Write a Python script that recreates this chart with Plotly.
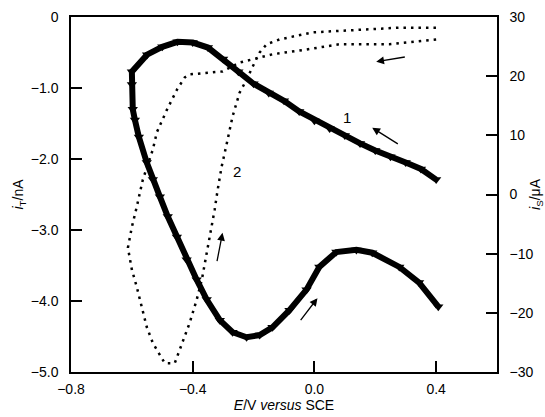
import plotly.graph_objects as go

# Curve 1 (tip current, left axis) - reverse branch (0.4 -> -0.6) then forward branch (-0.6 -> 0.4)
e1 = [0.40, 0.35, 0.30, 0.25, 0.20, 0.15, 0.10, 0.05, 0.00, -0.05, -0.10, -0.15, -0.20,
      -0.25, -0.30, -0.35, -0.40, -0.45, -0.50, -0.55, -0.60,
      -0.600, -0.597, -0.590, -0.577, -0.551, -0.531, -0.508, -0.482, -0.452, -0.420,
      -0.387, -0.354, -0.311, -0.269, -0.223, -0.180, -0.138, -0.082, -0.026, 0.016,
      0.072, 0.138, 0.190, 0.279, 0.344, 0.407]
i_t = [-2.29, -2.14, -2.05, -1.97, -1.88, -1.78, -1.67, -1.57, -1.46, -1.33, -1.18, -1.07, -0.94,
       -0.77, -0.59, -0.43, -0.36, -0.35, -0.42, -0.53, -0.77,
       -0.95, -1.30, -1.45, -1.69, -2.05, -2.29, -2.53, -2.81, -3.10, -3.42,
       -3.70, -3.98, -4.27, -4.44, -4.51, -4.48, -4.37, -4.13, -3.84, -3.52,
       -3.31, -3.28, -3.32, -3.52, -3.74, -4.08]

# Curve 2 (substrate current, right axis)
e2 = [0.400, 0.289, 0.246, 0.082, -0.026, -0.138, -0.203, -0.246, -0.302, -0.354, -0.410,
      -0.426, -0.452, -0.485, -0.518, -0.531, -0.564, -0.584, -0.600, -0.613,
      -0.600, -0.584, -0.567, -0.551, -0.531, -0.508, -0.492, -0.459,
      -0.452, -0.433, -0.410, -0.387, -0.370, -0.354, -0.344, -0.328, -0.318, -0.305,
      -0.289, -0.269, -0.246, -0.223, -0.203, -0.180, -0.157, -0.115, -0.007, 0.170, 0.279, 0.410]
i_s = [26.2, 25.7, 25.4, 25.4, 24.5, 23.7, 22.8, 22.3, 20.8, 20.6, 20.3,
       19.8, 17.7, 14.3, 10.5, 7.6, 2.5, -2.1, -5.5, -9.0,
       -12.7, -15.6, -19.0, -22.4, -25.1, -27.1, -28.5, -28.5,
       -27.5, -25.1, -21.7, -17.8, -14.4, -9.9, -7.2, -2.6, 0.8, 4.7,
       8.4, 13.2, 17.2, 19.4, 21.6, 24.0, 25.4, 26.2, 27.4, 27.9, 28.2, 28.2]

x_ticks = [-0.8, -0.4, 0.0, 0.4]
x_tick_text = ["\u22120.8", "\u22120.4", "0.0", "0.4"]
yl_ticks = [0, -1, -2, -3, -4, -5]
yl_tick_text = ["0", "\u22121.0", "\u22122.0", "\u22123.0", "\u22124.0", "\u22125.0"]
yr_ticks = [30, 20, 10, 0, -10, -20, -30]
yr_tick_text = ["30", "20", "10", "0", "\u221210", "\u221220", "\u221230"]

# Arrows: (head_E, head_iT, tail_E, tail_iT)
arrows = [(0.190, -1.56, 0.279, -1.80),
          (0.203, -0.63, 0.302, -0.56),
          (-0.302, -3.04, -0.321, -3.46),
          (0.010, -3.96, -0.049, -4.29)]
labels = [("1", 0.108, -1.41), ("2", -0.255, -2.17)]

font = dict(family="Liberation Sans, Arial, sans-serif", size=14, color="black")

fig = go.Figure()
fig.add_trace(go.Scatter(
    x=e1, y=i_t, mode="lines+markers", yaxis="y",
    line=dict(color="black", width=6),
    marker=dict(symbol="triangle-down", size=9, color="black"),
    showlegend=False))
fig.add_trace(go.Scatter(
    x=e2, y=i_s, mode="lines", yaxis="y2",
    line=dict(color="black", width=2.5, dash="2.5px,5px"),
    showlegend=False))

for hx, hy, tx, ty in arrows:
    fig.add_annotation(x=hx, y=hy, ax=tx, ay=ty, xref="x", yref="y",
                       axref="x", ayref="y", text="", showarrow=True,
                       arrowhead=2, arrowsize=1.2, arrowwidth=1.3, arrowcolor="black")
for t, lx, ly in labels:
    fig.add_annotation(x=lx, y=ly, xref="x", yref="y", text=t, showarrow=False,
                       font=dict(family=font["family"], size=15, color="black"))

axis_common = dict(showgrid=False, zeroline=False, showline=True, linecolor="black",
                   linewidth=1.5, ticks="inside", ticklen=11, tickwidth=1.5,
                   tickcolor="black", tickfont=font, automargin=False)

fig.update_layout(
    width=545, height=417,
    margin=dict(l=71, r=48, t=17, b=45),
    paper_bgcolor="white", plot_bgcolor="white",
    font=font,
    xaxis=dict(range=[-0.8, 0.6], tickvals=x_ticks, ticktext=x_tick_text, mirror=True,
               title=dict(text="<i>E</i>/V <i>versus</i> SCE", standoff=2, font=font),
               ticklabelstandoff=3, **axis_common),
    yaxis=dict(range=[-5, 0], tickvals=yl_ticks, ticktext=yl_tick_text,
               title=dict(text="<i>i</i><sub>T</sub>/nA", standoff=4, font=font),
               ticklabelstandoff=8, **axis_common),
    yaxis2=dict(range=[-30, 30], tickvals=yr_ticks, ticktext=yr_tick_text,
                overlaying="y", side="right",
                title=dict(text="<i>i</i><sub>S</sub>/\u03bcA", standoff=2, font=font),
                ticklabelstandoff=8, **axis_common),
)

fig.write_html("out.html")
